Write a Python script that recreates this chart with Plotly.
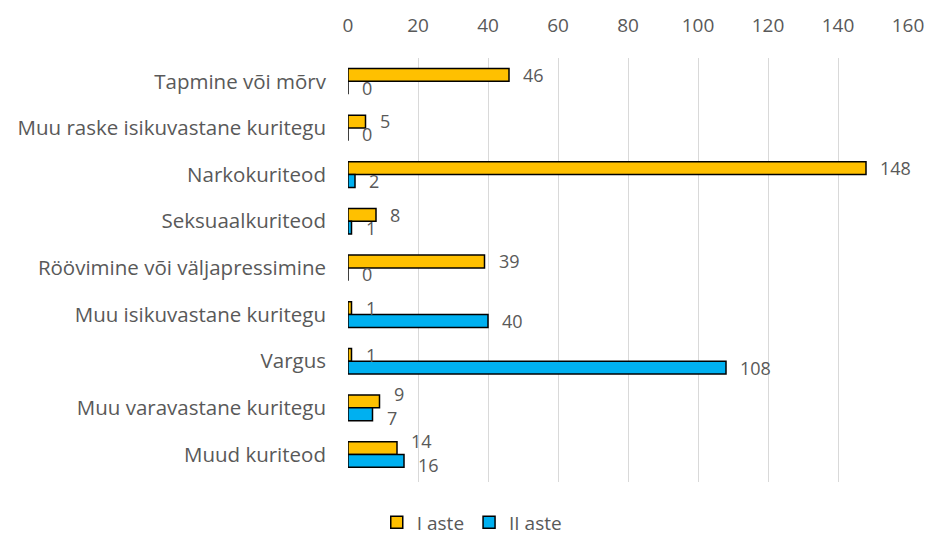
import plotly.graph_objects as go

categories = ["Tapmine või mõrv", "Muu raske isikuvastane kuritegu", "Narkokuriteod",
              "Seksuaalkuriteod", "Röövimine või väljapressimine", "Muu isikuvastane kuritegu",
              "Vargus", "Muu varavastane kuritegu", "Muud kuriteod"]
aste1 = [46, 5, 148, 8, 39, 1, 1, 9, 14]
aste2 = [0, 0, 2, 1, 0, 40, 108, 7, 16]
x_ticks = [0, 20, 40, 60, 80, 100, 120, 140, 160]

font_family = "Open Sans, Liberation Sans, sans-serif"
grey = "#595959"

fig = go.Figure()
fig.add_trace(go.Bar(name="I aste", y=categories, x=aste1, orientation="h",
                     marker=dict(color="#FFC000", line=dict(color="black", width=1.5))))
fig.add_trace(go.Bar(name="II aste", y=categories, x=aste2, orientation="h",
                     marker=dict(color="#00B0F0", line=dict(color="black", width=1.5))))

# data labels (Excel-like: placed right of the bar end, pushed apart when they collide)
px_per_unit = 560 / 160
for cat, v1, v2 in zip(categories, aste1, aste2):
    w1 = len(str(v1)) * 10.5
    collide = abs(v1 - v2) * px_per_unit < max(w1, len(str(v2)) * 10.5) and v1 > 1 and v2 > 1
    s1, s2 = (13.5, -10.5) if collide else (6.5, -6.5)
    for v, s in ((v1, s1), (v2, s2)):
        fig.add_annotation(x=v, y=cat, xref="x", yref="y", text=str(v), showarrow=False,
                           xanchor="left", yanchor="middle", xshift=12, yshift=s,
                           font=dict(size=18, color=grey, family=font_family))

fig.update_layout(
    width=927, height=540,
    margin=dict(l=348, r=19, t=58, b=58, autoexpand=False),
    barmode="group", bargap=0.45, bargroupgap=0,
    plot_bgcolor="white", paper_bgcolor="white",
    font=dict(family=font_family, color=grey, size=19),
    xaxis=dict(side="top", range=[0, 160], tickvals=x_ticks, showgrid=True,
               gridcolor="#D9D9D9", gridwidth=1, zeroline=False, showline=False,
               tickfont=dict(size=19, color=grey), ticks="", ticklabelstandoff=21),
    yaxis=dict(autorange="reversed", showgrid=False, showline=False, ticks="",
               tickfont=dict(size=20.5, color=grey), ticklabelstandoff=21),
    legend=dict(orientation="h", x=0.221, y=-0.095,
                xanchor="center", yanchor="middle", font=dict(size=19, color=grey)),
    showlegend=True,
)
fig.write_html("out.html", config={"displayModeBar": False},
               post_script="document.body.style.margin='0px';")
